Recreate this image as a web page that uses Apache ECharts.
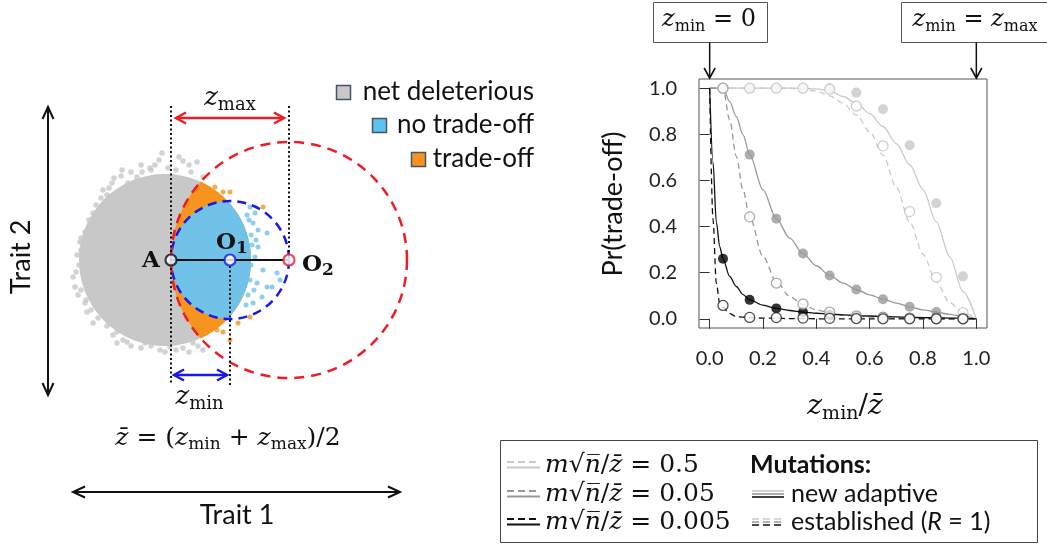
<!DOCTYPE html>
<html>
<head>
<meta charset="utf-8">
<script src="https://cdn.jsdelivr.net/npm/echarts@6.0.0/dist/echarts.min.js"></script>
<style>
html,body{margin:0;padding:0;background:#ffffff;}
#chart{width:1047px;height:546px;}
</style>
</head>
<body>
<div id="chart"></div>
<script>
// ================= Right panel data: Pr(trade-off) vs z_min / z-bar =================
const xTickValues = [0, 0.2, 0.4, 0.6, 0.8, 1.0];
const yTickValues = [0, 0.2, 0.4, 0.6, 0.8, 1.0];
const pointX = [0.05, 0.15, 0.25, 0.35, 0.45, 0.55, 0.65, 0.75, 0.85, 0.95];
// simulated points (filled = new adaptive, open = established)
const ptsAdaptive05      = [1, 1, 1, 1, 1, 0.981, 0.909, 0.753, 0.501, 0.184];
const ptsEstablished05   = [1, 1, 1, 1, 0.996, 0.923, 0.75, 0.465, 0.18, 0.027];
const ptsAdaptive005     = [1, 0.712, 0.434, 0.283, 0.188, 0.127, 0.085, 0.052, 0.029, 0.01];
const ptsEstablished005  = [1, 0.442, 0.155, 0.064, 0.029, 0.013, 0.007, 0.003, 0.001, 0];
const ptsAdaptive0005    = [0.26, 0.082, 0.045, 0.029, 0.017, 0.012, 0.008, 0.005, 0.003, 0.002];
const ptsEstablished0005 = [0.058, 0.006, 0.005, 0.003, 0.002, 0.001, 0, 0, 0, 0];
// theoretical curves (solid = new adaptive, dashed = established)
const curveX = [0, 0.0125, 0.025, 0.0375, 0.05, 0.075, 0.1, 0.125, 0.15, 0.2, 0.25, 0.3, 0.35, 0.4, 0.45, 0.5, 0.55, 0.6, 0.65, 0.7, 0.75, 0.8, 0.85, 0.9, 0.95, 1.0];
const fitAdaptive05      = [1,1,1,1,1,1,1,1,1,1,1,1,1, 0.997,0.99,0.964,0.935,0.89,0.834,0.76,0.668,0.56,0.42,0.27,0.118,0];
const fitEstablished05   = [1,1,1,1,1,1,1,1,1,1,1,1, 0.996,0.987,0.967,0.935,0.884,0.812,0.71,0.57,0.42,0.28,0.16,0.07,0.025,0];
const fitAdaptive005     = [1,1,1,1,1, 0.942,0.877,0.798,0.712,0.559,0.434,0.35,0.283,0.23,0.188,0.155,0.127,0.104,0.085,0.068,0.052,0.039,0.029,0.019,0.01,0];
const fitEstablished005  = [1,1,1,1,1, 0.863,0.704,0.559,0.442,0.27,0.162,0.097,0.061,0.039,0.026,0.016,0.011,0.007,0.005,0.003,0.002,0.001,0,0,0,0];
const fitAdaptive0005    = [1,0.68,0.42,0.314,0.26,0.184,0.14,0.105,0.082,0.059,0.045,0.036,0.029,0.024,0.02,0.017,0.014,0.012,0.01,0.008,0.006,0.005,0.004,0.003,0.002,0];
const fitEstablished0005 = [1,0.43,0.155,0.068,0.05,0.022,0.01,0.007,0.005,0.003,0.002,0.001,0.001,0,0,0,0,0,0,0,0,0,0,0,0,0];

// ================= Left panel data (trait units, A at origin) =================
const zMin = 59, zMax = 118;
const pointA = [0, 0];
const pointO1 = [zMin, 0];
const pointO2 = [zMax, 0];
const cloudCircle = [-6, 0, 86];      // dense part of the mutant cloud: centre x, centre y, radius
const grayDots = [[-9,107],[12,99],[26,98],[-16,95],[-21,92],[-29,88],[-49,90],[-59,77],[-43,77],[-78,47],[-78,33],[-91,18],[-86,8],[32,83],[-3,92],[-64,65],[-34,83],[-96,-27],[-93,-35],[-98,-17],[-78,-63],[-68,-55],[-54,-72],[-54,-83],[-44,-82],[-26,-83],[-11,-90],[-1,-87],[12,-88],[22,-83],[32,-90],[-86,-43],
  [-40,88],[-20,90],[5,90],[18,95],[-30,95],[-50,84],[8,103],[-12,100],[20,88],[-62,72],[-70,62],[-75,55],[-82,40],[-86,28],[-90,22],[-68,70],[-57,82],
  [-94,5],[-92,-5],[-95,-12],[-90,10],[-90,-30],[-85,-40],[-80,-50],[-73,-58],[-64,-66],[-58,-75],[-84,-52],
  [-40,-86],[-30,-88],[-20,-86],[-6,-92],[5,-90],[18,-92],[27,-86],[-48,-80]];
const orangeDots = [[44,73],[52,68],[59,68],[92,53],[79,-57],[59,-80],[52,-72],[46,-70],[67,-63]];
const blueDots = [[82,37],[87,30],[96,27],[84,47],[79,53],[92,-10],[106,-13],[86,-23],[91,-37],[82,-43],[96,-27],[101,-27],[109,-20],[87,13],[84,3],
  [76,45],[78,40],[80,25],[81,15],[80,-5],[79,-20],[77,-35],[75,-45],[83,-30],[85,20]];
const dottedGuides = [[0,154,0,-125],[zMax,154,zMax,6],[zMin,-6,zMin,-125]];
const arrowSegs = [[5,142,113,142,0],[3,-115,56,-115,1],[-123,153,-123,-135,2],[-98,-232,229,-232,2]];

// ================= helpers =================
const LIGHT = '#c8c8c8', MID = '#999999', DARK = '#000000';
const MATH = "'DejaVu Serif', 'Liberation Serif', serif";
const SANS = "Lato, 'Open Sans', sans-serif";

function arcPts(c, a0, a1, n) {
  const pts = [];
  for (let k = 0; k <= n; k++) { const a = a0 + (a1 - a0) * k / n; pts.push([c[0] + c[2] * Math.cos(a), c[1] + c[2] * Math.sin(a)]); }
  return pts;
}
function lensPts(P, Q) {
  const dx = Q[0] - P[0], dy = Q[1] - P[1], d = Math.hypot(dx, dy);
  const a = (P[2] * P[2] - Q[2] * Q[2] + d * d) / (2 * d);
  const al = Math.acos(a / P[2]), be = Math.acos((d - a) / Q[2]);
  const phi = Math.atan2(dy, dx), psi = phi + Math.PI;
  return arcPts(P, phi - al, phi + al, 80).concat(arcPts(Q, psi - be, psi + be, 80));
}
const blueCircle = [pointO1[0], pointO1[1], zMin];
const redCircle = [pointO2[0], pointO2[1], zMax];
const regionShapes = [arcPts(cloudCircle, 0, 2 * Math.PI, 160), lensPts(cloudCircle, redCircle), lensPts(cloudCircle, blueCircle)];
const regionFill = ['#c8c8c8', '#f7941d', '#70c2e8'];
const arrowColor = ['#ee1c24', '#1a1ae6', '#111111'];
const arrowWidth = [2.5, 2.5, 2];

function fitLine(ys, color, dashed) {
  return { type: 'line', xAxisIndex: 0, yAxisIndex: 0, data: curveX.map((x, i) => [x, ys[i]]),
    symbol: 'none', smooth: 0.3, smoothMonotone: 'x', silent: true, z: 2,
    lineStyle: { color: color, width: 1.3, type: dashed ? [6, 4] : 'solid' } };
}
function pointSet(ys, color, open) {
  return { type: 'scatter', xAxisIndex: 0, yAxisIndex: 0, data: pointX.map((x, i) => [x, ys[i]]),
    symbol: 'circle', symbolSize: 10, silent: true, z: open ? 4 : 3,
    itemStyle: open ? { color: '#ffffff', borderColor: color, borderWidth: 1.3 } : { color: color, borderWidth: 0 } };
}

const chart = echarts.init(document.getElementById('chart'), null, { renderer: 'canvas', width: 1047, height: 546 });

chart.setOption({
  animation: false,
  backgroundColor: '#ffffff',
  grid: [
    { left: 699, top: 79, width: 288, height: 249, show: true, borderColor: '#555', borderWidth: 1, containLabel: false },
    { left: 41, top: 100, width: 380, height: 440, containLabel: false }
  ],
  xAxis: [
    { gridIndex: 0, type: 'value', min: -0.04, max: 1.04,
      axisLine: { show: false }, splitLine: { show: false },
      axisTick: { show: true, length: 10, customValues: xTickValues, lineStyle: { color: '#333', width: 1 } },
      axisLabel: { customValues: xTickValues, formatter: v => v.toFixed(1), fontFamily: SANS, fontSize: 20, color: '#222', margin: 21 } },
    { gridIndex: 1, type: 'value', min: -130, max: 250, show: false }
  ],
  yAxis: [
    { gridIndex: 0, type: 'value', min: -0.04, max: 1.04,
      axisLine: { show: false }, splitLine: { show: false },
      axisTick: { show: true, length: 10, customValues: yTickValues, lineStyle: { color: '#333', width: 1 } },
      axisLabel: { customValues: yTickValues, formatter: v => v.toFixed(1), fontFamily: SANS, fontSize: 20, color: '#222', margin: 22 } },
    { gridIndex: 1, type: 'value', min: -280, max: 160, show: false }
  ],
  series: [
    // ---- right panel ----
    fitLine(fitAdaptive05, '#cacaca', false),
    fitLine(fitEstablished05, '#cacaca', true),
    fitLine(fitAdaptive005, MID, false),
    fitLine(fitEstablished005, MID, true),
    fitLine(fitAdaptive0005, '#111', false),
    fitLine(fitEstablished0005, '#111', true),
    pointSet(ptsAdaptive05, LIGHT, false),
    pointSet(ptsAdaptive005, MID, false),
    pointSet(ptsAdaptive0005, DARK, false),
    pointSet(ptsEstablished05, '#c4c4c4', true),
    pointSet(ptsEstablished005, MID, true),
    pointSet(ptsEstablished0005, '#222', true),
    // ---- left panel ----
    { type: 'custom', xAxisIndex: 1, yAxisIndex: 1, clip: false, silent: true, z: 1,
      data: regionShapes.map((s, i) => [0, 0, i]),
      renderItem: (params, api) => {
        const k = api.value(2);
        return { type: 'polygon', shape: { points: regionShapes[k].map(p => api.coord(p)) }, style: { fill: regionFill[k] } };
      } },
    { type: 'scatter', xAxisIndex: 1, yAxisIndex: 1, data: grayDots, symbolSize: 5.5, silent: true, z: 2, itemStyle: { color: '#c8c8c8' } },
    { type: 'scatter', xAxisIndex: 1, yAxisIndex: 1, data: orangeDots, symbolSize: 5, silent: true, z: 2, itemStyle: { color: '#f7941d' } },
    { type: 'scatter', xAxisIndex: 1, yAxisIndex: 1, data: blueDots, symbolSize: 5, silent: true, z: 2, itemStyle: { color: '#70c2e8' } },
    { type: 'custom', xAxisIndex: 1, yAxisIndex: 1, clip: false, silent: true, z: 3,
      data: [blueCircle.concat([0]), redCircle.concat([1])],
      renderItem: (params, api) => {
        const c = api.coord([api.value(0), api.value(1)]);
        const r = api.size([api.value(2), 0])[0];
        const k = api.value(3);
        return { type: 'circle', shape: { cx: c[0], cy: c[1], r: r },
          style: { fill: 'none', stroke: k ? '#ee1c24' : '#1a1ae6', lineWidth: 2.5, lineDash: k ? [10, 7] : [9, 6] } };
      } },
    { type: 'custom', xAxisIndex: 1, yAxisIndex: 1, clip: false, silent: true, z: 3,
      data: dottedGuides,
      renderItem: (params, api) => {
        const p1 = api.coord([api.value(0), api.value(1)]), p2 = api.coord([api.value(2), api.value(3)]);
        return { type: 'line', shape: { x1: p1[0], y1: p1[1], x2: p2[0], y2: p2[1] }, style: { stroke: '#111', lineWidth: 2, lineDash: [2, 2.5] } };
      } },
    { type: 'custom', xAxisIndex: 1, yAxisIndex: 1, clip: false, silent: true, z: 3,
      data: arrowSegs,
      renderItem: (params, api) => {
        const p1 = api.coord([api.value(0), api.value(1)]), p2 = api.coord([api.value(2), api.value(3)]);
        const k = api.value(4), c = arrowColor[k], w = arrowWidth[k];
        const L = k === 2 ? 12 : 10, W = 5.5;
        const dx = p2[0] - p1[0], dy = p2[1] - p1[1], len = Math.hypot(dx, dy), ux = dx / len, uy = dy / len;
        const head = (t, sx, sy) => ({ type: 'polyline', shape: { points: [[t[0] - L * sx + W * sy, t[1] - L * sy - W * sx], [t[0], t[1]], [t[0] - L * sx - W * sy, t[1] - L * sy + W * sx]] }, style: { stroke: c, lineWidth: w, fill: null } });
        return { type: 'group', children: [
          { type: 'line', shape: { x1: p1[0], y1: p1[1], x2: p2[0], y2: p2[1] }, style: { stroke: c, lineWidth: w } },
          head(p2, ux, uy), head(p1, -ux, -uy)] };
      } },
    { type: 'line', xAxisIndex: 1, yAxisIndex: 1, data: [pointA, pointO2], symbol: 'none', silent: true, z: 4,
      lineStyle: { color: '#111', width: 2.2 } },
    { type: 'scatter', xAxisIndex: 1, yAxisIndex: 1, silent: true, z: 5, symbolSize: 11,
      data: [
        { value: pointA, itemStyle: { color: '#fff', borderColor: '#111', borderWidth: 2.2 } },
        { value: pointO1, itemStyle: { color: '#fff', borderColor: '#1a1ae6', borderWidth: 2.2 } },
        { value: pointO2, itemStyle: { color: '#fff', borderColor: '#ee1c24', borderWidth: 2.2 } }
      ] }
  ]
});

// ================= annotations (text, boxes, legends) =================
function mathRich(size) {
  return {
    i: { fontFamily: MATH, fontStyle: 'italic', fontSize: size, fill: '#111' },
    r: { fontFamily: MATH, fontSize: size, fill: '#111' },
    s: { fontFamily: MATH, fontSize: Math.round(size * 0.68), fill: '#111', padding: [Math.round(size * 0.55), 0, 0, 0] }
  };
}
const G = [];
function T(x, y, text, style, extra) {
  G.push(Object.assign({ type: 'text', x: x, y: y, silent: true, z: 100,
    style: Object.assign({ text: text, fill: '#111', align: 'center', verticalAlign: 'middle', textAlign: 'center', textVerticalAlign: 'middle' }, style) }, extra || {}));
}
function Lseg(x1, y1, x2, y2, stroke, lw, dash) {
  G.push({ type: 'line', silent: true, z: 100, shape: { x1: x1, y1: y1, x2: x2, y2: y2 }, style: { stroke: stroke, lineWidth: lw, lineDash: dash || null } });
}
function Rect(x, y, w, h, fill, stroke, lw) {
  G.push({ type: 'rect', silent: true, z: 99, shape: { x: x, y: y, width: w, height: h }, style: { fill: fill, stroke: stroke, lineWidth: lw } });
}
function chev(tx, ty, ux, uy, L, W, stroke, lw) {
  G.push({ type: 'polyline', silent: true, z: 100, shape: { points: [[tx - L * ux + W * uy, ty - L * uy - W * ux], [tx, ty], [tx - L * ux - W * uy, ty - L * uy + W * ux]] }, style: { stroke: stroke, lineWidth: lw, fill: null } });
}
const toL = p => chart.convertToPixel({ gridIndex: 1 }, p);
const toR = p => chart.convertToPixel({ gridIndex: 0 }, p);

// left panel labels anchored to the geometry
const pA = toL(pointA), pO1 = toL(pointO1), pO2 = toL(pointO2);
const pZmax = toL([(arrowSegs[0][0] + arrowSegs[0][2]) / 2, arrowSegs[0][1]]);
const pZmin = toL([(arrowSegs[1][0] + arrowSegs[1][2]) / 2, arrowSegs[1][1]]);
const boldRich = {
  b: { fontFamily: MATH, fontWeight: 'bold', fontSize: 23, fill: '#111' },
  t: { fontFamily: MATH, fontWeight: 'bold', fontSize: 17, fill: '#111', padding: [12, 0, 0, 0] }
};
T(pA[0] - 20, pA[1] + 1, '{b|A}', { rich: boldRich });
T(pO1[0] + 2, pO1[1] - 17, '{b|O}{t|1}', { rich: boldRich });
T(pO2[0] + 29, pO2[1] + 5, '{b|O}{t|2}', { rich: boldRich });
T(pZmax[0], pZmax[1] - 20, '{i|z}{s|max}', { rich: mathRich(26) });
T(pZmin[0] - 1, pZmin[1] + 22, '{i|z}{s|min}', { rich: mathRich(26) });
T(228, 438, '{i|z̄}{r| = (}{i|z}{s|min}{r| + }{i|z}{s|max}{r|)/2}', { rich: mathRich(25) });
T(21, 257, 'Trait 2', { fontFamily: SANS, fontSize: 27 }, { rotation: Math.PI / 2 });
T(237, 515, 'Trait 1', { fontFamily: SANS, fontSize: 27 });

// left legend
Rect(336.5, 85.5, 14, 14, '#c8c8c8', '#44546a', 1.5);
T(534, 92, 'net deleterious', { fontFamily: SANS, fontSize: 26, align: 'right', textAlign: 'right' });
Rect(372.5, 118.5, 14, 14, '#5bc4ee', '#44546a', 1.5);
T(534, 125, 'no trade-off', { fontFamily: SANS, fontSize: 26, align: 'right', textAlign: 'right' });
Rect(411.5, 152.5, 14, 14, '#f7931e', '#44546a', 1.5);
T(534, 159, 'trade-off', { fontFamily: SANS, fontSize: 26, align: 'right', textAlign: 'right' });

// right panel: axis titles
T(613, 204, 'Pr(trade-off)', { fontFamily: SANS, fontSize: 27 }, { rotation: Math.PI / 2 });
T(845, 407, '{i|z}{s|min}{r|/}{i|z̄}', { rich: mathRich(28) });

// right panel: top call-outs pointing at x = 0 and x = 1
const tip0 = toR([0, 1.04]), tip1 = toR([1, 1.04]);
Rect(653.5, 2.5, 114, 40, '#fff', '#555', 1);
T(709, 20, '{i|z}{s|min}{r| = 0}', { rich: mathRich(24) });
Lseg(tip0[0], 42.5, tip0[0], tip0[1] - 1, '#111', 1.5);
chev(tip0[0], tip0[1] - 1, 0, 1, 10, 5.5, '#111', 1.6);
Rect(901.5, 2.5, 170, 40, '#fff', '#555', 1);
T(975, 20, '{i|z}{s|min}{r| = }{i|z}{s|max}', { rich: mathRich(24) });
Lseg(tip1[0], 42.5, tip1[0], tip1[1] - 1, '#111', 1.5);
chev(tip1[0], tip1[1] - 1, 0, 1, 10, 5.5, '#111', 1.6);

// bottom-right legend
Rect(500.5, 440.5, 537, 102, '#fff', '#444', 1);
const rowY = [465, 494, 522];
const rowColor = ['#cacaca', MID, '#111'];
const rowLabel = ['0.5', '0.05', '0.005'];
for (let r = 0; r < 3; r++) {
  Lseg(507, rowY[r] - 3, 540, rowY[r] - 3, rowColor[r], 2, [7, 4]);
  Lseg(507, rowY[r] + 2.5, 540, rowY[r] + 2.5, rowColor[r], 2);
  T(545, rowY[r], '{i|m}{r|√}{i|n̅}{r|/}{i|z̄}{r| = ' + rowLabel[r] + '}', { rich: mathRich(25), align: 'left', textAlign: 'left' });
}
T(750, rowY[0], 'Mutations:', { fontFamily: SANS, fontSize: 25, fontWeight: 'bold', align: 'left', textAlign: 'left' });
for (let r = 0; r < 3; r++) {
  Lseg(752, rowY[1] - 3 + r * 3, 784, rowY[1] - 3 + r * 3, rowColor[r], 1.6);
  Lseg(752, rowY[2] - 3 + r * 3, 784, rowY[2] - 3 + r * 3, rowColor[r], 1.6, [7, 4]);
}
T(791, rowY[1], 'new adaptive', { fontFamily: SANS, fontSize: 25, align: 'left', textAlign: 'left' });
T(791, rowY[2], '{a|established (}{b|R}{a| = 1)}', { align: 'left', textAlign: 'left',
  rich: { a: { fontFamily: SANS, fontSize: 25, fill: '#111' }, b: { fontFamily: SANS, fontSize: 25, fontStyle: 'italic', fill: '#111' } } });

chart.setOption({ graphic: G });
</script>
</body>
</html>
